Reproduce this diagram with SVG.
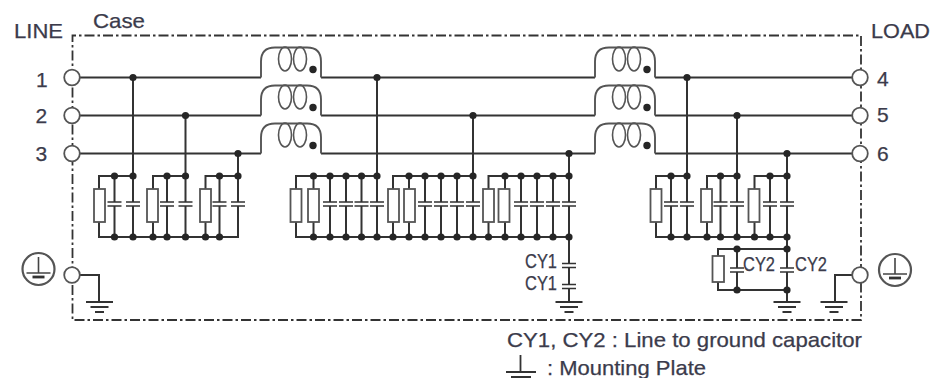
<svg xmlns="http://www.w3.org/2000/svg" xmlns:xlink="http://www.w3.org/1999/xlink" width="936" height="378" viewBox="0 0 936 378">
<style>
text{font-family:"Liberation Sans",Arial,sans-serif;fill:#3b3b4b;font-size:21px;stroke:#3b3b4b;stroke-width:.25px}
.cy{font-size:20px}
.w{fill:none;stroke:#333;stroke-width:2}
.c{fill:#fff;stroke:#555;stroke-width:1.8}
.case{fill:none;stroke:#333;stroke-width:1.8;stroke-dasharray:10 3 2.5 3}
</style>
<defs>
<circle id="d" r="3.6" fill="#262626"/>
<rect id="res" x="-5.5" y="0" width="11" height="33" fill="#fff" stroke="#555" stroke-width="1.8"/>
<g id="cap"><rect x="-7" y="-2" width="14" height="4" fill="#fff"/><path d="M-7,-2H7M-7,2H7" fill="none" stroke="#333" stroke-width="1.7"/></g>
<g id="gnd"><path d="M-13.500,0H13.500M-9,5H9M-4.500,10H4.500" fill="none" stroke="#333" stroke-width="1.9"/></g>
<g id="ind"><path d="M0,0V-16C0,-26 6,-30 14,-30H46C54,-30 60,-26 60,-16V0" fill="none" stroke="#555" stroke-width="1.9"/><ellipse cx="24" cy="-18.500" rx="6.500" ry="12" fill="none" stroke="#555" stroke-width="1.6"/><ellipse cx="39" cy="-18.500" rx="6.500" ry="12" fill="none" stroke="#555" stroke-width="1.6"/><circle cx="52" cy="-8" r="3.700" fill="#262626"/></g>
<g id="pe"><circle r="16" fill="#fff" stroke="#555" stroke-width="2.200"/><path d="M0,-12V4M-12,4H12" fill="none" stroke="#444" stroke-width="1.6"/><path d="M-6,8H6" stroke="#333" stroke-width="2.800"/></g>
</defs>
<rect width="936" height="378" fill="#fff"/>
<g id="case"><path class="case" d="M72.500,153V35.500H861V153M861,153V320H72.500V153"/></g>
<g id="connectors">
<path class="w" d="M80,77.500H261M321,77.500H595M655,77.500H852M80,115.500H261M321,115.500H595M655,115.500H852M80,153.500H261M321,153.500H595M655,153.500H852"/>
<path class="w" d="M133,77.500V237M185.500,115.500V237M238,153.500V237H99V176H133M153,237V176H185.500M205.500,237V176H238M114.500,176V237M167,176V237M219.500,176V237"/>
<path class="w" d="M377,77.500V237M473,115.500V237M569,153.500V301M569,237H296V176H377M393,237V176H473M488.500,237V176H569M313.500,176V237M330,176V237M346,176V237M361.500,176V237M409,176V237M425,176V237M441,176V237M457,176V237M505,176V237M521,176V237M537,176V237M553,176V237"/>
<path class="w" d="M687,77.500V237M737,115.500V237M787,153.500V302M787,237H656V176H687M707,237V176H737M754.500,237V176H787M671,176V237M720.500,176V237M770,176V237M787,249H718V290H787M737,249V290"/>
<path class="w" d="M80,275H99V302M852,275H835V302"/>
<use xlink:href="#d" x="133" y="77.500"/><use xlink:href="#d" x="185.500" y="115.500"/><use xlink:href="#d" x="238" y="153.500"/><use xlink:href="#d" x="377" y="77.500"/><use xlink:href="#d" x="473" y="115.500"/><use xlink:href="#d" x="569" y="153.500"/><use xlink:href="#d" x="687" y="77.500"/><use xlink:href="#d" x="737" y="115.500"/><use xlink:href="#d" x="787" y="153.500"/>
<use xlink:href="#d" x="114.500" y="176"/><use xlink:href="#d" x="133" y="176"/><use xlink:href="#d" x="167" y="176"/><use xlink:href="#d" x="185.500" y="176"/><use xlink:href="#d" x="219.500" y="176"/><use xlink:href="#d" x="238" y="176"/>
<use xlink:href="#d" x="114.500" y="237"/><use xlink:href="#d" x="133" y="237"/><use xlink:href="#d" x="153" y="237"/><use xlink:href="#d" x="167" y="237"/><use xlink:href="#d" x="185.500" y="237"/><use xlink:href="#d" x="205.500" y="237"/><use xlink:href="#d" x="219.500" y="237"/>
<use xlink:href="#d" x="313.500" y="176"/><use xlink:href="#d" x="330" y="176"/><use xlink:href="#d" x="346" y="176"/><use xlink:href="#d" x="361.500" y="176"/><use xlink:href="#d" x="377" y="176"/><use xlink:href="#d" x="409" y="176"/><use xlink:href="#d" x="425" y="176"/><use xlink:href="#d" x="441" y="176"/><use xlink:href="#d" x="457" y="176"/><use xlink:href="#d" x="473" y="176"/><use xlink:href="#d" x="505" y="176"/><use xlink:href="#d" x="521" y="176"/><use xlink:href="#d" x="537" y="176"/><use xlink:href="#d" x="553" y="176"/><use xlink:href="#d" x="569" y="176"/>
<use xlink:href="#d" x="313.500" y="237"/><use xlink:href="#d" x="330" y="237"/><use xlink:href="#d" x="346" y="237"/><use xlink:href="#d" x="361.500" y="237"/><use xlink:href="#d" x="377" y="237"/><use xlink:href="#d" x="393" y="237"/><use xlink:href="#d" x="409" y="237"/><use xlink:href="#d" x="425" y="237"/><use xlink:href="#d" x="441" y="237"/><use xlink:href="#d" x="457" y="237"/><use xlink:href="#d" x="473" y="237"/><use xlink:href="#d" x="488.500" y="237"/><use xlink:href="#d" x="505" y="237"/><use xlink:href="#d" x="521" y="237"/><use xlink:href="#d" x="537" y="237"/><use xlink:href="#d" x="553" y="237"/><use xlink:href="#d" x="569" y="237"/>
<use xlink:href="#d" x="671" y="176"/><use xlink:href="#d" x="687" y="176"/><use xlink:href="#d" x="720.500" y="176"/><use xlink:href="#d" x="737" y="176"/><use xlink:href="#d" x="770" y="176"/><use xlink:href="#d" x="787" y="176"/>
<use xlink:href="#d" x="671" y="237"/><use xlink:href="#d" x="687" y="237"/><use xlink:href="#d" x="707" y="237"/><use xlink:href="#d" x="720.500" y="237"/><use xlink:href="#d" x="737" y="237"/><use xlink:href="#d" x="754.500" y="237"/><use xlink:href="#d" x="770" y="237"/><use xlink:href="#d" x="787" y="237"/>
<use xlink:href="#d" x="737" y="249"/><use xlink:href="#d" x="787" y="249"/><use xlink:href="#d" x="737" y="290"/><use xlink:href="#d" x="787" y="290"/>
</g>
<g id="inductors">
<g id="L1"><use xlink:href="#ind" x="261" y="77.500"/></g><g id="L2"><use xlink:href="#ind" x="261" y="115.500"/></g><g id="L3"><use xlink:href="#ind" x="261" y="153.500"/></g>
<g id="L4"><use xlink:href="#ind" x="595" y="77.500"/></g><g id="L5"><use xlink:href="#ind" x="595" y="115.500"/></g><g id="L6"><use xlink:href="#ind" x="595" y="153.500"/></g>
</g>
<g id="resistors">
<g id="R1"><use xlink:href="#res" x="99.500" y="189"/></g><g id="R2"><use xlink:href="#res" x="152.500" y="189"/></g><g id="R3"><use xlink:href="#res" x="205.500" y="189"/></g>
<g id="R4"><use xlink:href="#res" x="296" y="189"/></g><g id="R5"><use xlink:href="#res" x="313.500" y="189"/></g><g id="R6"><use xlink:href="#res" x="393.500" y="189"/></g><g id="R7"><use xlink:href="#res" x="409.500" y="189"/></g><g id="R8"><use xlink:href="#res" x="488.500" y="189"/></g><g id="R9"><use xlink:href="#res" x="504" y="189"/></g>
<g id="R10"><use xlink:href="#res" x="656" y="189"/></g><g id="R11"><use xlink:href="#res" x="706.500" y="189"/></g><g id="R12"><use xlink:href="#res" x="754" y="189"/></g>
<g id="R13"><rect x="712.500" y="256" width="11.500" height="26" fill="#fff" stroke="#555" stroke-width="1.8"/></g>
</g>
<g id="capacitors">
<g id="C1"><use xlink:href="#cap" x="114.500" y="204"/></g><g id="C2"><use xlink:href="#cap" x="133" y="204"/></g><g id="C3"><use xlink:href="#cap" x="167" y="204"/></g><g id="C4"><use xlink:href="#cap" x="185.500" y="204"/></g><g id="C5"><use xlink:href="#cap" x="219.500" y="204"/></g><g id="C6"><use xlink:href="#cap" x="238" y="204"/></g>
<g id="C7"><use xlink:href="#cap" x="330" y="204"/></g><g id="C8"><use xlink:href="#cap" x="346" y="204"/></g><g id="C9"><use xlink:href="#cap" x="361.500" y="204"/></g><g id="C10"><use xlink:href="#cap" x="377" y="204"/></g>
<g id="C11"><use xlink:href="#cap" x="425" y="204"/></g><g id="C12"><use xlink:href="#cap" x="441" y="204"/></g><g id="C13"><use xlink:href="#cap" x="457" y="204"/></g><g id="C14"><use xlink:href="#cap" x="473" y="204"/></g>
<g id="C15"><use xlink:href="#cap" x="521" y="204"/></g><g id="C16"><use xlink:href="#cap" x="537" y="204"/></g><g id="C17"><use xlink:href="#cap" x="553" y="204"/></g><g id="C18"><use xlink:href="#cap" x="569" y="204"/></g>
<g id="C19"><use xlink:href="#cap" x="671" y="204"/></g><g id="C20"><use xlink:href="#cap" x="687" y="204"/></g><g id="C21"><use xlink:href="#cap" x="720.500" y="204"/></g><g id="C22"><use xlink:href="#cap" x="737" y="204"/></g><g id="C23"><use xlink:href="#cap" x="770" y="204"/></g><g id="C24"><use xlink:href="#cap" x="787" y="204"/></g>
<g id="CY1a"><use xlink:href="#cap" x="569" y="265.500"/><text class="cy" x="525" y="268" textLength="32" lengthAdjust="spacingAndGlyphs">CY1</text></g>
<g id="CY1b"><use xlink:href="#cap" x="569" y="286.500"/><text class="cy" x="525" y="290" textLength="32" lengthAdjust="spacingAndGlyphs">CY1</text></g>
<g id="CY2a"><use xlink:href="#cap" x="737" y="270"/><text class="cy" x="743" y="270.500" textLength="32" lengthAdjust="spacingAndGlyphs">CY2</text></g>
<g id="CY2b"><use xlink:href="#cap" x="787" y="270"/><text class="cy" x="795" y="271" textLength="32" lengthAdjust="spacingAndGlyphs">CY2</text></g>
</g>
<g id="grounds">
<g id="G1"><use xlink:href="#gnd" x="99.500" y="302"/></g><g id="G2"><use xlink:href="#gnd" x="569" y="302"/></g><g id="G3"><use xlink:href="#gnd" x="787" y="302"/></g><g id="G4"><use xlink:href="#gnd" x="834" y="302"/></g>
</g>
<g id="terminals">
<g id="T1"><circle class="c" cx="72" cy="77.500" r="7.800"/><text x="36" y="87">1</text></g>
<g id="T2"><circle class="c" cx="72" cy="115.500" r="7.800"/><text x="35.500" y="123">2</text></g>
<g id="T3"><circle class="c" cx="72" cy="153.500" r="7.800"/><text x="35.500" y="160.500">3</text></g>
<g id="T4"><circle class="c" cx="860" cy="77.500" r="7.800"/><text x="877" y="86">4</text></g>
<g id="T5"><circle class="c" cx="860" cy="115.500" r="7.800"/><text x="877" y="122">5</text></g>
<g id="T6"><circle class="c" cx="860" cy="153.500" r="7.800"/><text x="877" y="160.500">6</text></g>
<g id="TG1"><circle class="c" cx="72" cy="275" r="7.800"/></g>
<g id="TG2"><circle class="c" cx="860" cy="275" r="7.800"/></g>
<g id="PE1"><use xlink:href="#pe" x="38.500" y="269"/></g>
<g id="PE2"><use xlink:href="#pe" x="895" y="270"/></g>
</g>
<g id="labels">
<text x="14" y="38" textLength="49" lengthAdjust="spacingAndGlyphs">LINE</text>
<text x="93" y="27.500" textLength="52" lengthAdjust="spacingAndGlyphs">Case</text>
<text x="871" y="38" textLength="59" lengthAdjust="spacingAndGlyphs">LOAD</text>
<text x="507" y="346.500" textLength="355" lengthAdjust="spacingAndGlyphs">CY1, CY2 : Line to ground capacitor</text>
<g id="legend-ground"><path d="M520.500,355V372M506,372H536M511,377H531" fill="none" stroke="#333" stroke-width="1.800"/></g>
<text x="547" y="374.500" textLength="159" lengthAdjust="spacingAndGlyphs">: Mounting Plate</text>
</g>
</svg>
